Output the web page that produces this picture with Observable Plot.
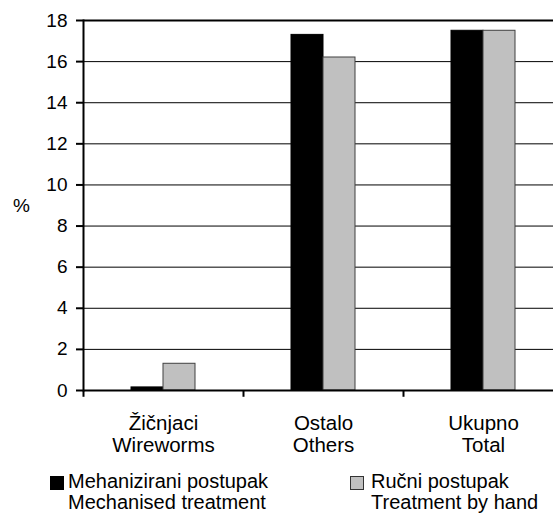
<!DOCTYPE html>
<html><head><meta charset="utf-8">
<script src="https://cdn.jsdelivr.net/npm/d3@7"></script>
<script src="https://cdn.jsdelivr.net/npm/@observablehq/plot@0.6"></script>
<style>
body{margin:0;background:#fff;font-family:"Liberation Sans",Arial,sans-serif;}
#wrap{position:relative;width:553px;height:513px;overflow:hidden;background:#fff;}
.leg{position:absolute;font-size:20px;line-height:21px;color:#000;white-space:pre;}
.sw{position:absolute;width:12px;height:12px;}
</style></head><body><div id="wrap"></div>
<script>
const categories = ["Žičnjaci\nWireworms", "Ostalo\nOthers", "Ukupno\nTotal"];
const mechanised = [0.15, 17.3, 17.5];
const byHand = [1.3, 16.2, 17.5];
const seriesNames = ["Mehanizirani postupak\nMechanised treatment", "Ručni postupak\nTreatment by hand"];
const seriesColors = ["#000000", "#c0c0c0"];
const yTicks = [0, 2, 4, 6, 8, 10, 12, 14, 16, 18];

const rowsMech = categories.map((c, i) => ({category: c, value: mechanised[i]}));
const rowsHand = categories.map((c, i) => ({category: c, value: byHand[i]}));

const chart = Plot.plot({
  width: 553,
  height: 460,
  marginTop: 20,
  marginBottom: 70,
  marginLeft: 83,
  marginRight: -10,
  style: {fontFamily: "'Liberation Sans', Arial, sans-serif", fontSize: "19px", color: "#000", background: "#fff", overflow: "visible"},
  x: {domain: categories, padding: 0, axis: null},
  y: {domain: [0, 18], axis: null},
  marks: [
    Plot.ruleY(yTicks.filter(d => d !== 18), {y: d => d, stroke: "#000", strokeWidth: 1}),
    Plot.ruleY([18], {y: d => d, stroke: "#000", strokeWidth: 2}),
    Plot.barY(rowsMech, {x: "category", y: "value", fill: seriesColors[0], stroke: "#000", strokeWidth: 1, insetLeft: 48, insetRight: 80}),
    Plot.barY(rowsHand, {x: "category", y: "value", fill: seriesColors[1], stroke: "#404040", strokeWidth: 1, insetLeft: 80, insetRight: 48}),
    Plot.ruleY([0], {y: d => d, stroke: "#000", strokeWidth: 2}),
    Plot.frame({anchor: "left", stroke: "#000", strokeWidth: 2}),
    Plot.ruleX(categories, {x: d => d, dx: -80, y1: 0, y2: -0.33, stroke: "#000", strokeWidth: 2}),
    Plot.axisY({ticks: yTicks, tickSize: 7, tickPadding: 9, fontSize: 19, label: null, strokeWidth: 2}),
    Plot.axisX({tickSize: 0, tickPadding: 24, fontSize: 20.5, label: null, lineHeight: 1.08}),
    Plot.text(["%"], {frameAnchor: "left", dx: -62, text: d => d, fontSize: 19, textAnchor: "middle"})
  ]
});
const wrap = document.getElementById("wrap");
wrap.appendChild(chart);

// legend
const legPos = [{sx: 50, tx: 68}, {sx: 350, tx: 371}];
seriesNames.forEach((name, i) => {
  const sw = document.createElement("div");
  sw.className = "sw";
  sw.style.left = legPos[i].sx + "px";
  sw.style.top = "476px";
  sw.style.background = seriesColors[i];
  sw.style.border = "1px solid " + (i === 0 ? "#000" : "#333");
  wrap.appendChild(sw);
  const t = document.createElement("div");
  t.className = "leg";
  t.style.left = legPos[i].tx + "px";
  t.style.top = "471px";
  t.textContent = name;
  wrap.appendChild(t);
});
</script></body></html>
